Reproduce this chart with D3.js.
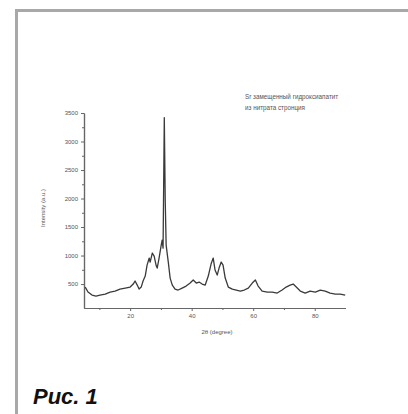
<!DOCTYPE html>
<html><head><meta charset="utf-8">
<script src="https://cdn.jsdelivr.net/npm/d3@7"></script>
<style>body{margin:0;background:#fff}svg{display:block}</style>
</head><body>
<svg id="c" width="408" height="414"></svg>
<script>
const twoTheta = [5.4,6.3,7.6,8.9,10.2,11.9,13.5,15.1,16.7,18.4,20,21,21.6,22.3,22.9,23.6,24.2,24.9,25.5,26.2,26.5,27.2,27.8,28.5,28.8,29.4,30.1,30.4,30.7,31.1,31.4,31.7,32.4,33.0,33.7,34.6,35.6,36.9,38.2,39.5,40.5,41.5,42.4,43.4,44.4,45.4,46.3,47.0,47.6,48.3,48.9,49.6,50.2,50.9,51.9,53.2,54.5,55.8,57.1,58.4,59.7,60.7,61.6,62.9,64.6,66.2,67.8,69.4,70.7,72.0,73.0,74.0,75.3,76.9,78.5,80.2,81.8,83.4,85.0,86.7,88.3,89.9];
const intensity = [447,360,307,290,307,325,360,377,412,430,447,500,553,482,412,447,553,640,833,956,886,1044,991,816,780,956,1184,1272,1130,3420,1974,1184,886,605,482,412,395,430,465,517,570,517,535,500,482,640,851,956,746,658,780,886,833,605,447,412,395,377,395,430,517,570,465,377,360,360,342,395,447,482,500,447,377,342,377,360,395,377,342,325,325,307];
const xTicks = [20,40,60,80];
const xMinor = [10,30,50,70];
const yTicks = [500,1000,1500,2000,2500,3000,3500];
const yMinor = [750,1250,1750,2250,2750,3250];
const legendLines = ["Sr замещенный гидроксиапатит","из нитрата стронция"];
const xTitle = "2θ (degree)";
const yTitle = "Intensity (a.u.)";
const figLabel = "Рис. 1";

const svg = d3.select("#c");
svg.append("line").attr("x1",16.5).attr("x2",408).attr("y1",10.5).attr("y2",10.5).attr("stroke","#a8a8a8").attr("stroke-width",3);
svg.append("line").attr("x1",16.5).attr("x2",16.5).attr("y1",9).attr("y2",414).attr("stroke","#a8a8a8").attr("stroke-width",3);

const x = d3.scaleLinear().domain([5,90]).range([84,345.5]);
const y = d3.scaleLinear().domain([80,3500]).range([308,113]);

const font = "Arial, 'Liberation Sans', sans-serif";
const ax = "#666";
const fmt = d3.format("d");
svg.append("g").attr("transform","translate(0,308)")
  .call(d3.axisBottom(x).tickValues(xTicks).tickFormat(fmt).tickSize(3).tickPadding(3).tickSizeOuter(0));
svg.append("g").attr("transform","translate(0,308)")
  .call(d3.axisBottom(x).tickValues(xMinor).tickSize(2).tickFormat("").tickSizeOuter(0));
svg.append("g").attr("transform","translate(84,0)")
  .call(d3.axisLeft(y).tickValues(yTicks).tickFormat(fmt).tickSize(3).tickPadding(3).tickSizeOuter(0));
svg.append("g").attr("transform","translate(84,0)")
  .call(d3.axisLeft(y).tickValues(yMinor).tickSize(2).tickFormat("").tickSizeOuter(0));
svg.selectAll(".domain").attr("stroke",ax).attr("stroke-width",1.2);
svg.selectAll(".tick line").attr("stroke",ax);
svg.selectAll(".tick text").attr("font-family",font).attr("font-size",6).attr("fill","#555");

const line = d3.line().x((d,i)=>x(twoTheta[i])).y(d=>y(d));
svg.append("path").datum(intensity).attr("d",line).attr("fill","none")
  .attr("stroke","#3a3a3a").attr("stroke-width",1.3).attr("stroke-linejoin","round");

svg.append("text").attr("x",217).attr("y",334).attr("text-anchor","middle")
  .attr("font-family",font).attr("font-size",6).attr("fill","#555").text(xTitle);
svg.append("text").attr("transform","translate(45,208) rotate(-90)").attr("text-anchor","middle")
  .attr("font-family",font).attr("font-size",6).attr("fill","#555").text(yTitle);

svg.selectAll(".leg").data(legendLines).enter().append("text")
  .attr("x",245).attr("y",(d,i)=>99+i*11).attr("font-family",font).attr("font-size",6.3)
  .attr("fill","#555").text(d=>d);

svg.append("text").attr("x",33).attr("y",404).attr("font-family",font)
  .attr("font-size",22).attr("font-weight","bold").attr("font-style","italic")
  .attr("fill","#111").text(figLabel);
</script>
</body></html>
